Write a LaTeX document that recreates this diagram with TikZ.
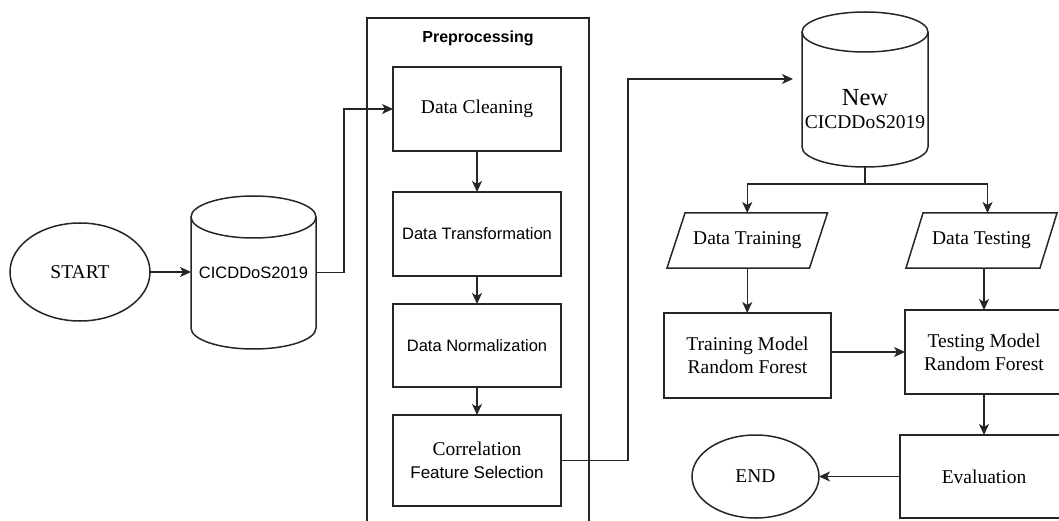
\documentclass[tikz,border=0pt]{standalone}
\usepackage{fontspec}
\setmainfont{Liberation Serif}
\setsansfont{Liberation Sans}
\usetikzlibrary{arrows.meta,calc,shapes.geometric}
\begin{document}
\begin{tikzpicture}[x=1pt,y=1pt,
  line width=1.5pt, draw=black!85,
  every node/.style={inner sep=0pt, outer sep=0pt},
  arr/.style={-{Stealth[length=11pt,width=10pt,inset=3pt]}},
  boxnode/.style={draw, rectangle, align=center},
  serif/.style={font=\fontsize{19.5}{23}\selectfont\rmfamily},
  sans/.style={font=\fontsize{16.5}{20}\selectfont\sffamily},
  ghost/.style={rectangle, align=center},
]
\useasboundingbox (0,0) rectangle (1059,520);

% start
\node[draw, ellipse, minimum width=140, minimum height=98, serif] (start) at (80,248) {START};

% first database
\node[ghost, minimum width=125, minimum height=153, sans] (cyla) at (253.5,247.5) {CICDDoS2019};
\draw ($(cyla.north)+(0,-21)$) ellipse [x radius=62.5, y radius=21];
\draw ($(cyla.north west)+(0,-21)$) -- ($(cyla.south west)+(0,21)$)
  arc[start angle=180, end angle=360, x radius=62.5, y radius=21]
  -- ($(cyla.north east)+(0,-21)$);

% preprocessing container
\node[draw, rectangle, minimum width=222, minimum height=520, anchor=north west] (prep) at (367,502) {};
\node[font=\fontsize{16}{19}\selectfont\sffamily\bfseries] (preptitle) at (478,482) {Preprocessing};

\node[boxnode, minimum width=168, minimum height=84, serif] (clean) at (477,411) {Data Cleaning};
\node[boxnode, minimum width=168, minimum height=84, sans] (trans) at (477,286) {Data Transformation};
\node[boxnode, minimum width=168, minimum height=83, sans] (norm) at (477,174.5) {Data Normalization};
\node[boxnode, minimum width=168, minimum height=91, serif] (corr) at (477,59.5)
  {Correlation\\{\sffamily\fontsize{17}{23}\selectfont Feature Selection}};

% second database
\node[ghost, minimum width=126, minimum height=155] (cylb) at (865,430.5) {};
\draw ($(cylb.north)+(0,-20)$) ellipse [x radius=63, y radius=20];
\draw ($(cylb.north west)+(0,-20)$) -- ($(cylb.south west)+(0,20)$)
  arc[start angle=180, end angle=360, x radius=63, y radius=20]
  -- ($(cylb.north east)+(0,-20)$);
\node[ghost, serif] (cylbtxt) at (865,410.5) {{\fontsize{24.5}{26}\selectfont New}\\CICDDoS2019};
\coordinate (cylbin) at (793,441);

% data split
\coordinate (split) at (865,336);
\node[ghost, minimum width=142.5, minimum height=55, serif] (dtrain) at (747.25,279.5) {Data Training};
\draw ($(dtrain.south west)+(-9,0)$) -- ($(dtrain.south east)+(-9,0)$) -- ($(dtrain.north east)+(9,0)$) -- ($(dtrain.north west)+(9,0)$) -- cycle;
\node[ghost, minimum width=134, minimum height=55, serif] (dtest) at (981.5,279.5) {Data Testing};
\draw ($(dtest.south west)+(-8.5,0)$) -- ($(dtest.south east)+(-8.5,0)$) -- ($(dtest.north east)+(8.5,0)$) -- ($(dtest.north west)+(8.5,0)$) -- cycle;

\node[boxnode, minimum width=167, minimum height=85, serif] (trainm) at (747.5,164.5) {Training Model\\Random Forest};
\node[boxnode, minimum width=158, minimum height=84, serif] (testm) at (984,168) {Testing Model\\Random Forest};
\node[boxnode, minimum width=168, minimum height=83, serif] (eval) at (984,43.5) {Evaluation};
\node[draw, ellipse, minimum width=127, minimum height=83, serif] (endn) at (755.5,43.5) {END};

% connectors
\draw[arr] (start.east) -- (start.east -| cyla.west);
\draw[arr] (cyla.east) -- ++(28,0) |- (clean.west);
\draw[arr] (clean) -- (trans);
\draw[arr] (trans) -- (norm);
\draw[arr] (norm) -- (corr);
\draw[arr] (corr.east) -- ++(67,0) |- (cylbin);
\draw (cylb.south) -- (split);
\draw[arr] (split) -| (dtrain.north);
\draw[arr] (split) -| ($(dtest.north)+(6,0)$);
\draw[arr] (dtrain.south) -- (dtrain.south |- trainm.north);
\draw[arr] (testm.north |- dtest.south) -- (testm.north);
\draw[arr] (trainm.east |- testm.west) -- (testm.west);
\draw[arr] (testm.south) -- (testm.south |- eval.north);
\draw[arr] (eval.west) -- (endn.east);
\end{tikzpicture}
\end{document}
